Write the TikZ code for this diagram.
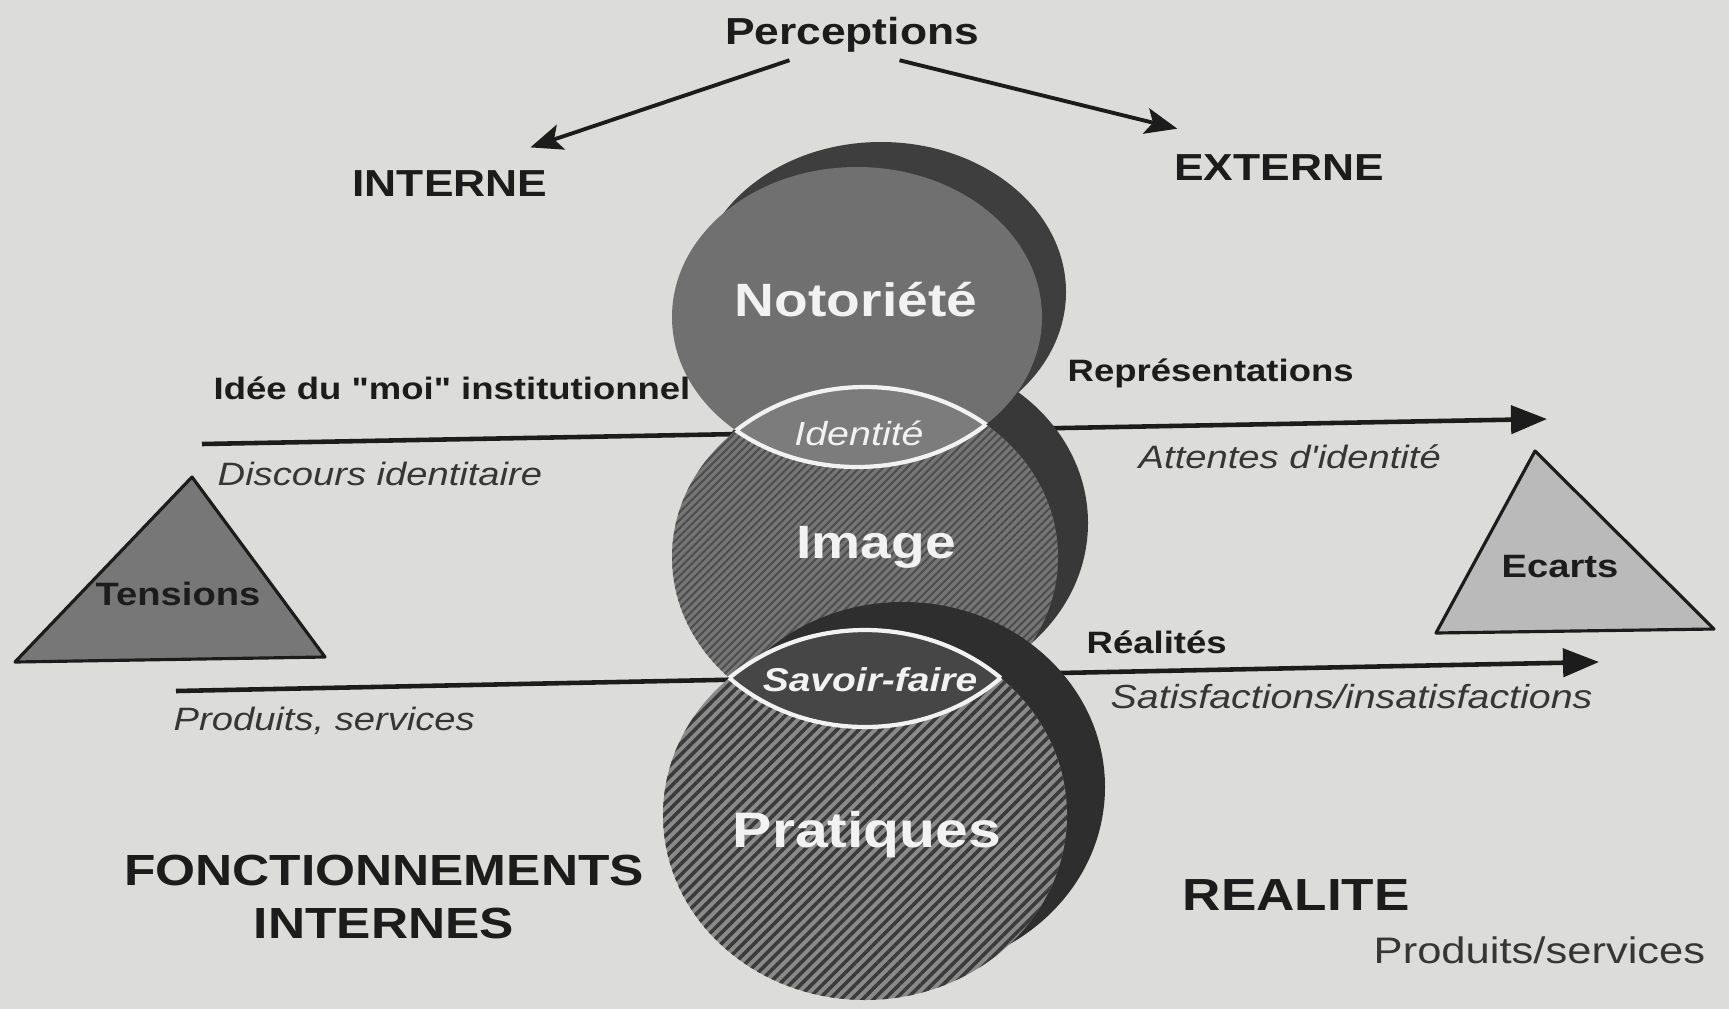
\documentclass[tikz,border=0pt]{standalone}
\usepackage{fontspec}
\setmainfont{Liberation Sans}[FakeStretch=1.18,Ligatures=TeXOff]
\usepackage{xcolor}
\usepackage{tikz}
\usetikzlibrary{arrows.meta,patterns.meta}
\definecolor{IMBack}{HTML}{DCDCDA}
\definecolor{IMInk}{HTML}{1C1C1C}
\definecolor{IMSoft}{HTML}{363636}
\definecolor{IMWhite}{HTML}{F2F2F2}
\definecolor{IMNoto}{HTML}{707070}
\definecolor{IMNotoDark}{HTML}{3E3E3E}
\definecolor{IMImage}{HTML}{767676}
\definecolor{IMImageLine}{HTML}{4E4E4E}
\definecolor{IMImageDark}{HTML}{383838}
\definecolor{IMPrat}{HTML}{8A8A8A}
\definecolor{IMPratLine}{HTML}{3A3A3A}
\definecolor{IMPratDark}{HTML}{2E2E2E}
\definecolor{IMIdent}{HTML}{7C7C7C}
\definecolor{IMSavoir}{HTML}{464646}
\definecolor{IMTension}{HTML}{777777}
\definecolor{IMEcart}{HTML}{BABABA}

\begin{document}
\begin{tikzpicture}[x=1cm,y=1cm,
  head/.style={font=\bfseries\fontsize{10.7}{12.8}\selectfont,text=IMInk,inner sep=2pt},
  boldlbl/.style={font=\bfseries\fontsize{8.8}{10.5}\selectfont,text=IMInk,inner sep=0pt,anchor=west},
  itallbl/.style={font=\itshape\fontsize{9.2}{11}\selectfont,text=IMSoft,inner sep=0pt,anchor=west},
  biglbl/.style={font=\bfseries\fontsize{12.4}{15}\selectfont,text=IMInk,inner sep=0pt},
  incircle/.style={font=\bfseries\fontsize{13.3}{16}\selectfont,text=IMWhite,inner sep=0pt},
  inlens/.style={font=\itshape\fontsize{9.5}{11}\selectfont,text=IMWhite,inner sep=0pt},
  trilbl/.style={font=\bfseries\fontsize{9.2}{11}\selectfont,text=IMInk,inner sep=0pt},
  pointer/.style={line width=1.1pt,draw=IMInk,-{Stealth[length=3.2mm,width=2.6mm,inset=0.7mm]}},
  flowline/.style={line width=1.3pt,draw=IMInk,-{Triangle[length=3.6mm,width=2.8mm]}},
  lensline/.style={draw=IMWhite,line width=1.2pt},
  tri/.style={draw=IMInk,line width=0.9pt,line join=round}]
\path[use as bounding box] (0,0) rectangle (17.29,10.09);
\fill[IMBack] (0,0) rectangle (17.29,10.09);

\node[head] (perc) at (8.52,9.74) {Perceptions};
\node[head] (intern) at (4.50,8.25) {INTERNE};
\node[head] (extern) at (12.79,8.41) {EXTERNE};
\draw[pointer,shorten >=5mm] (perc.202) -- ([xshift=0.33cm]intern.north);
\draw[pointer,shorten >=7.8mm] (perc.-28) -- ([xshift=-0.26cm]extern.north);

\coordinate (idStart) at (2.02,5.65);
\coordinate (idEnd) at (15.47,5.90);
\coordinate (sfStart) at (1.76,3.18);
\coordinate (sfEnd) at (15.99,3.47);
\draw[flowline] (idStart) -- (idEnd);
\draw[flowline] (sfStart) -- (sfEnd);

\fill[IMImageDark] (8.95,4.86) ellipse [x radius=1.93,y radius=1.70];
\fill[IMNotoDark] (8.81,7.17) ellipse [x radius=1.85,y radius=1.50];
\fill[IMNoto] (8.57,6.92) ellipse [x radius=1.85,y radius=1.50];
\fill[IMImage] (8.65,4.52) ellipse [x radius=1.93,y radius=1.70];
\fill[pattern={Lines[angle=45,distance=1.6pt,line width=0.6pt]},pattern color=IMImageLine] (8.65,4.52) ellipse [x radius=1.93,y radius=1.70];
\fill[IMPratDark] (9.03,2.22) ellipse [x radius=2.02,y radius=1.85];
\fill[IMPrat] (8.65,1.94) ellipse [x radius=2.02,y radius=1.85];
\fill[pattern={Lines[angle=45,distance=2.2pt,line width=1pt]},pattern color=IMPratLine] (8.65,1.94) ellipse [x radius=2.02,y radius=1.85];

\begin{scope}
\clip (8.57,6.92) ellipse [x radius=1.85,y radius=1.50];
\fill[IMIdent] (8.65,4.52) ellipse [x radius=1.93,y radius=1.70];
\draw[lensline] (8.65,4.52) ellipse [x radius=1.93,y radius=1.70];
\end{scope}
\begin{scope}
\clip (8.65,4.52) ellipse [x radius=1.93,y radius=1.70];
\draw[lensline] (8.57,6.92) ellipse [x radius=1.85,y radius=1.50];
\end{scope}
\begin{scope}
\clip (8.65,4.52) ellipse [x radius=1.93,y radius=1.70];
\fill[IMSavoir] (8.65,1.94) ellipse [x radius=2.02,y radius=1.85];
\draw[lensline] (8.65,1.94) ellipse [x radius=2.02,y radius=1.85];
\end{scope}
\begin{scope}
\clip (8.65,1.94) ellipse [x radius=2.02,y radius=1.85];
\draw[lensline] (8.65,4.52) ellipse [x radius=1.93,y radius=1.70];
\end{scope}

\node[incircle] (noto) at (8.56,7.09) {Notoriété};
\node[inlens] (ident) at (8.59,5.76) {Identité};
\node[incircle] (image) at (8.76,4.62) {Image};
\node[inlens,font=\bfseries\itshape\fontsize{9.4}{11}\selectfont] (savoir) at (8.70,3.29) {Savoir-faire};
\node[incircle,font=\bfseries\fontsize{14.2}{17}\selectfont] (prat) at (8.67,1.74) {Pratiques};

\node[boldlbl] (ideeLbl) at (2.13,6.21) {Idée du "moi" institutionnel};
\node[itallbl] (discLbl) at (2.17,5.35) {Discours identitaire};
\node[boldlbl] (repLbl) at (10.67,6.36) {Représentations};
\node[itallbl] (attLbl) at (11.38,5.52) {Attentes d'identité};
\node[boldlbl] (realLbl) at (10.86,3.67) {Réalités};
\node[itallbl,font=\itshape\fontsize{9.5}{11}\selectfont] (satLbl) at (11.10,3.12) {Satisfactions/insatisfactions};
\node[itallbl] (prodLbl) at (1.73,2.88) {Produits, services};

\draw[tri,fill=IMTension] (1.92,5.32) -- (0.15,3.47) -- (3.25,3.52) -- cycle;
\node[trilbl] (tens) at (1.78,4.15) {Tensions};
\draw[tri,fill=IMEcart] (15.35,5.58) -- (14.36,3.76) -- (17.14,3.80) -- cycle;
\node[trilbl] (ecart) at (15.60,4.42) {Ecarts};

\node[biglbl,align=center] (fonct) at (3.84,1.12) {FONCTIONNEMENTS\\INTERNES};
\node[biglbl,anchor=west,font=\bfseries\fontsize{12.8}{15}\selectfont] (realite) at (11.82,1.14) {REALITE};
\node[anchor=west,inner sep=0pt,font=\fontsize{10.5}{12.5}\selectfont,text=IMSoft] (prodServ) at (13.73,0.59) {Produits/services};
\end{tikzpicture}
\end{document}
